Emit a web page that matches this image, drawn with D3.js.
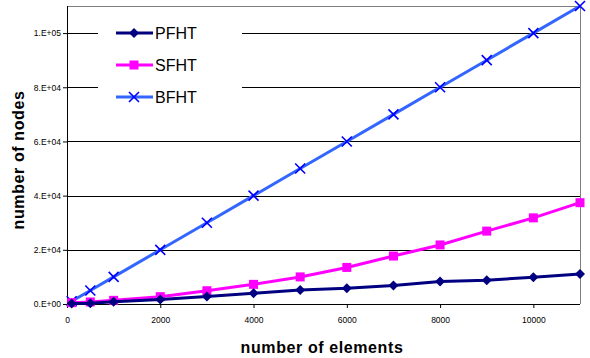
<!DOCTYPE html>
<html>
<head>
<meta charset="utf-8">
<script src="https://cdn.jsdelivr.net/npm/d3@7"></script>
<style>
  html, body { margin: 0; padding: 0; background: #fff; }
  svg { display: block; font-family: "Liberation Sans", Arial, sans-serif; }
</style>
</head>
<body>
<svg id="chart" width="590" height="358"></svg>
<script>
// Number of elements on the x axis
const elements = [100, 500, 1000, 2000, 3000, 4000, 5000, 6000, 7000, 8000, 9000, 10000, 11000];

// Number of nodes for each structure
const pfht = [200, 300, 800, 1700, 2800, 4000, 5200, 5800, 6800, 8300, 8800, 9900, 11100];
const sfht = [500, 750, 1350, 2700, 4900, 7250, 10000, 13500, 17700, 21800, 26900, 31800, 37400];
const bfht = [1000, 5000, 10000, 20000, 30000, 40000, 50000, 60000, 70000, 80000, 90000, 100000, 110000];

const seriesNames = ["PFHT", "SFHT", "BFHT"];
const xTicks = [0, 2000, 4000, 6000, 8000, 10000];
const yTicks = [0, 20000, 40000, 60000, 80000, 100000];
const yTickLabels = ["0.E+00", "2.E+04", "4.E+04", "6.E+04", "8.E+04", "1.E+05"];

const svg = d3.select("#chart");
const plotLeft = 67, plotRight = 580, plotTop = 6, plotBottom = 304;

const x = d3.scaleLinear().domain([0, 11000]).range([plotLeft, plotRight]);
const y = d3.scaleLinear().domain([0, 110000]).range([plotBottom, plotTop]);

// Horizontal gridlines
svg.append("g").selectAll("line")
  .data(yTicks.slice(1))
  .join("line")
  .attr("x1", plotLeft).attr("x2", plotRight)
  .attr("y1", d => Math.round(y(d)) + 0.5).attr("y2", d => Math.round(y(d)) + 0.5)
  .attr("stroke", "#000").attr("stroke-width", 1);

// Plot frame: top and right edges in gray
svg.append("line").attr("x1", plotLeft).attr("x2", plotRight).attr("y1", plotTop + 0.5).attr("y2", plotTop + 0.5)
  .attr("stroke", "#808080");
svg.append("line").attr("x1", plotRight + 0.5).attr("x2", plotRight + 0.5).attr("y1", plotTop).attr("y2", plotBottom)
  .attr("stroke", "#808080");

// Y axis
const yAxis = d3.axisLeft(y).tickValues(yTicks)
  .tickFormat((d, i) => yTickLabels[i]).tickSize(4).tickPadding(2);
const gy = svg.append("g").attr("transform", `translate(${plotLeft},0)`).call(yAxis);
gy.select(".domain").attr("stroke", "#000").attr("d", `M0.5,${plotTop}V${plotBottom}`);
gy.selectAll("line").attr("stroke", "#000");
gy.selectAll("text").attr("font-size", 8.5).attr("fill", "#000")
  .attr("font-family", "'Liberation Sans', Arial, sans-serif");

// X axis
const xAxis = d3.axisBottom(x).tickValues(xTicks).tickFormat(d3.format("d"))
  .tickSize(4).tickPadding(9);
const gx = svg.append("g").attr("transform", `translate(0,${plotBottom})`).call(xAxis);
gx.select(".domain").attr("stroke", "#000").attr("d", `M${plotLeft},0.5H${plotRight}`);
gx.selectAll("line").attr("stroke", "#000");
gx.selectAll("text").attr("font-size", 8.5).attr("fill", "#000")
  .attr("font-family", "'Liberation Sans', Arial, sans-serif");

// Legend background covers gridlines behind it
svg.append("rect").attr("x", 98).attr("y", 14).attr("width", 144).attr("height", 104)
  .attr("fill", "#fff");

const series = [
  { name: seriesNames[0], values: pfht, line: "#000080", marker: "#000080", shape: "diamond" },
  { name: seriesNames[1], values: sfht, line: "#ff00ff", marker: "#ff00ff", shape: "square" },
  { name: seriesNames[2], values: bfht, line: "#3366ff", marker: "#0000ff", shape: "cross" }
];

function drawMarker(g, shape, color) {
  if (shape === "diamond") {
    g.append("path").attr("d", "M0,-5L5,0L0,5L-5,0Z").attr("fill", color);
  } else if (shape === "square") {
    g.append("rect").attr("x", -4.5).attr("y", -4.5).attr("width", 9).attr("height", 9)
      .attr("fill", color);
  } else {
    g.append("path").attr("d", "M-5,-5L5,5M-5,5L5,-5")
      .attr("stroke", color).attr("stroke-width", 1.6).attr("fill", "none");
  }
}

const line = d3.line().x(d => x(d[0])).y(d => y(d[1]));

// Draw back to front: BFHT, SFHT, PFHT
[series[2], series[1], series[0]].forEach(s => {
  const pts = elements.map((e, i) => [e, s.values[i]]);
  svg.append("path").datum(pts).attr("d", line)
    .attr("fill", "none").attr("stroke", s.line).attr("stroke-width", 3)
    .attr("stroke-linejoin", "round");
  pts.forEach(p => {
    const g = svg.append("g").attr("transform", `translate(${x(p[0])},${y(p[1])})`);
    drawMarker(g, s.shape, s.marker);
  });
});

// Legend entries
series.forEach((s, i) => {
  const ly = 33 + i * 32;
  svg.append("line").attr("x1", 116).attr("x2", 153).attr("y1", ly).attr("y2", ly)
    .attr("stroke", s.line).attr("stroke-width", 3);
  const g = svg.append("g").attr("transform", `translate(134,${ly})`);
  drawMarker(g, s.shape, s.marker);
  svg.append("text").attr("x", 155).attr("y", ly + 6).text(s.name)
    .attr("font-size", 16).attr("fill", "#000");
});

// Axis titles
svg.append("text").attr("x", 322).attr("y", 353).attr("text-anchor", "middle")
  .attr("font-size", 16).attr("font-weight", "bold").attr("letter-spacing", 0.6)
  .text("number of elements");
svg.append("text").attr("transform", "translate(24,160) rotate(-90)")
  .attr("text-anchor", "middle").attr("font-size", 16).attr("font-weight", "bold")
  .attr("letter-spacing", 0.6).text("number of nodes");
</script>
</body>
</html>
